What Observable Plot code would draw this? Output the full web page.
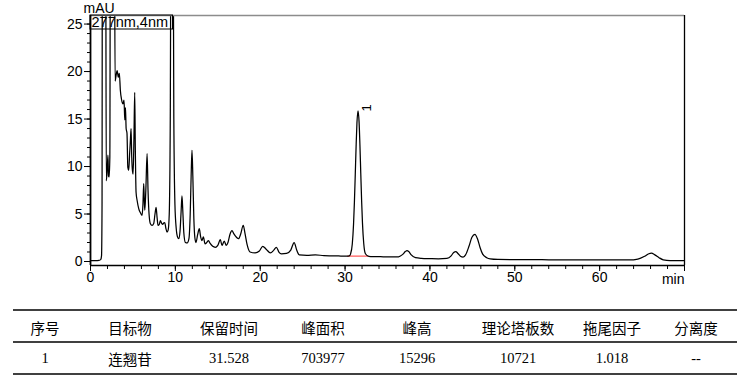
<!DOCTYPE html>
<html><head><meta charset="utf-8">
<script src="https://cdn.jsdelivr.net/npm/d3@7"></script>
<script src="https://cdn.jsdelivr.net/npm/@observablehq/plot@0.6"></script>
<style>
body{margin:0;background:#fff;}
#chart svg{display:block;}
</style></head><body><div id="chart"></div><script>
// ---- data ----
const retentionTime = [
 0.0,0.6,1.0,1.2,1.30,1.36,1.40,1.78,1.86,1.96,2.06,2.12,2.20,2.28,2.35,2.80,2.90,3.00,3.14,3.28,3.40,3.52,3.65,3.84,3.95,4.04,4.12,4.20,4.30,4.40,4.50,4.62,4.70,4.78,4.86,4.95,5.02,5.12,5.21,5.28,5.37,5.50,5.69,5.90,6.08,6.18,6.27,6.34,6.40,6.52,6.67,6.78,6.90,7.06,7.25,7.45,7.60,7.73,7.85,7.96,8.10,8.24,8.40,8.51,8.62,8.75,8.88,9.02,9.15,9.28,9.40,9.50,9.72,9.82,9.95,10.1,10.25,10.40,10.55,10.68,10.78,10.88,11.0,11.18,11.40,11.60,11.75,11.86,11.96,12.06,12.18,12.30,12.43,12.62,12.82,12.98,13.14,13.30,13.50,13.70,13.90,14.10,14.40,14.70,15.00,15.30,15.50,15.76,16.00,16.20,16.45,16.67,16.90,17.20,17.45,17.70,18.00,18.20,18.45,18.80,19.40,19.90,20.30,20.70,21.20,21.60,21.90,22.20,22.50,23.10,23.60,24.00,24.30,24.60,25.50,26.5,27.5,28.5,29.5,30.2,30.5,30.65,30.85,31.0,31.1,31.2,31.3,31.4,31.528,31.65,31.75,31.85,31.95,32.05,32.2,32.4,32.8,33.5,34.5,35.5,36.3,36.8,37.1,37.3,37.5,37.8,38.3,39.0,40.0,41.0,42.0,42.5,42.8,43.05,43.3,43.6,43.9,44.2,44.6,44.95,45.3,45.6,45.9,46.2,46.7,47.1,48,50,52,54,56,58,60,62,63.5,64.5,65.3,65.8,66.1,66.5,67.0,67.5,68.3,69.9
];
const absorbance = [
 0.10,0.10,0.12,0.2,0.6,6,40,40,8.5,9.6,11.2,9.0,8.9,11,40,40,19.0,19.5,20.1,19.4,19.8,18.0,17.1,16.6,17.0,14.9,16.2,14.0,13.5,9.9,9.6,11.5,12.75,14.0,11.0,9.5,9.2,13,17.8,12,7.3,6.4,5.55,5.1,4.85,6.0,8.2,6.5,5.4,7.5,11.35,7.5,5.0,3.97,3.8,4.0,5.0,5.7,4.6,3.8,3.9,4.3,4.0,3.9,4.05,4.1,3.5,3.1,3.3,5,15,40,40,15,6,3.5,2.6,2.4,3.2,5.3,6.9,5.3,3.0,2.0,1.95,2.4,5,9,11.7,9,4.5,2.5,2.0,2.8,3.45,2.6,2.2,2.6,1.85,2.0,2.2,1.9,1.6,1.5,1.7,2.3,1.7,2.15,1.7,2.0,2.9,3.25,2.9,2.55,2.4,2.9,3.8,3.0,1.8,1.0,0.9,1.1,1.6,1.3,0.9,1.2,1.5,1.0,0.8,0.85,1.2,2.0,1.2,0.7,0.65,0.7,0.62,0.6,0.58,0.57,0.6,0.81,1.84,3.95,6.25,9.12,12.12,14.6,15.87,14.7,12.3,9.3,6.4,4.07,1.9,0.82,0.55,0.52,0.5,0.48,0.5,0.75,1.05,1.15,1.05,0.7,0.4,0.33,0.3,0.28,0.33,0.6,0.95,1.05,0.85,0.55,0.45,0.7,1.6,2.55,2.85,2.4,1.5,0.8,0.4,0.28,0.22,0.2,0.2,0.18,0.17,0.16,0.18,0.17,0.16,0.25,0.55,0.82,0.87,0.7,0.4,0.18,0.1,0.1
];
const yDomain = [-0.42, 25.9];
const xDomain = [0, 70];
const yMajorTicks = [0, 5, 10, 15, 20, 25];
const yMinorTicks = [0,1,2,3,4,5,6,7,8,9,10,11,12,13,14,15,16,17,18,19,20,21,22,23,24,25];
const xMajorTicks = [0, 10, 20, 30, 40, 50, 60];
const xMinorTicks = [0,2,4,6,8,10,12,14,16,18,20,22,24,26,28,30,32,34,36,38,40,42,44,46,48,50,52,54,56,58,60,62,64,66,68,70];
const yUnit = "mAU";
const xUnit = "min";
const channelLabel = "277nm,4nm";
const peakIds = ["1"];
const peakTimes = [31.528];
const peakTops = [15.87];
const baselineTimes = [30.3, 32.7];
const baselineValues = [0.57, 0.56];
const tableHeaders = ["序号", "目标物", "保留时间", "峰面积", "峰高", "理论塔板数", "拖尾因子", "分离度"];
const tableRow = ["1", "连翘苷", "31.528", "703977", "15296", "10721", "1.018", "--"];

// ---- layout ----
const W = 752, H = 295;
const sans = "'Liberation Sans', Arial, sans-serif";
const trace = retentionTime.map((t, i) => ({t, v: absorbance[i]}));
const peaks = peakIds.map((id, i) => ({id, t: peakTimes[i], v: peakTops[i]}));
const baseline = baselineTimes.map((t, i) => ({t, v: baselineValues[i]}));

const channelBox = (index, scales, values, dim) => {
  const g = d3.create("svg:g");
  const x0 = dim.marginLeft, y0 = dim.marginTop;
  g.append("rect").attr("x", x0).attr("y", y0).attr("width", 82.5).attr("height", 14)
    .attr("fill", "none").attr("stroke", "black").attr("stroke-width", 1);
  g.append("text").attr("x", x0 + 1.5).attr("y", y0 + 12)
    .attr("text-anchor", "start")
    .attr("font-family", sans).attr("font-size", 14.5).attr("fill", "black").text(channelLabel);
  return g.node();
};

const chart = Plot.plot({
  width: W, height: H,
  marginLeft: 90, marginRight: 68, marginTop: 15, marginBottom: 30,
  style: {fontFamily: sans, fontSize: "14px", color: "black", background: "white"},
  x: {domain: xDomain},
  y: {domain: yDomain},
  marks: [
    Plot.line(baseline, {x: "t", y: "v", stroke: "#ff5a5a", strokeWidth: 1.3}),
    Plot.line(trace, {x: "t", y: "v", curve: "monotone-x", stroke: "black", strokeWidth: 1.25, clip: true}),
    Plot.ruleY([yDomain[1]], {stroke: "#8c8c8c", strokeWidth: 1.5}),
    Plot.ruleX([xDomain[1]], {stroke: "black", strokeWidth: 1.3}),
    Plot.ruleX([xDomain[0]], {stroke: "black", strokeWidth: 1.8}),
    Plot.ruleY([yDomain[0]], {stroke: "black", strokeWidth: 1.5}),
    Plot.axisY({ticks: yMinorTicks, tickSize: 3, tickFormat: () => "", label: null}),
    Plot.axisY({ticks: yMajorTicks, tickSize: 6, tickPadding: 2, fontSize: 14, label: null}),
    Plot.axisX({ticks: xMinorTicks, tickSize: 4, tickFormat: () => "", label: null}),
    Plot.axisX({ticks: xMajorTicks.concat([xDomain[1]]), tickSize: 6, tickPadding: 1, fontSize: 14, label: null,
      tickFormat: d => d === xDomain[1] ? "" : d}),
    Plot.text([yUnit], {frameAnchor: "top-left", textAnchor: "start", lineAnchor: "middle", dx: -7, dy: -7, fontSize: 14}),
    Plot.text([xUnit], {frameAnchor: "bottom-right", textAnchor: "end", lineAnchor: "middle", dy: 14, fontSize: 14}),
    Plot.text(peaks, {x: "t", y: "v", text: "id", rotate: -90, dx: 9, dy: -3, fontSize: 13}),
    channelBox
  ]
});
document.getElementById("chart").appendChild(chart);

// ---- results table below the plot ----
const colCenters = [45, 130, 229, 323, 417, 518, 612, 696];
const tbl = d3.select("#chart").append("svg").attr("width", W).attr("height", 85).style("display", "block");
[15, 47, 79].forEach(y => tbl.append("line").attr("x1", 13).attr("x2", 737).attr("y1", y).attr("y2", y)
  .attr("stroke", "black").attr("stroke-width", 1.3));
tbl.selectAll("text.h").data(tableHeaders).join("text").attr("class", "h")
  .attr("x", (d, i) => colCenters[i]).attr("y", 32).attr("text-anchor", "middle").attr("dominant-baseline", "central")
  .attr("font-family", "'Noto Sans CJK SC', sans-serif").attr("font-size", 14.5).text(d => d);
tbl.selectAll("text.r").data(tableRow).join("text").attr("class", "r")
  .attr("x", (d, i) => colCenters[i]).attr("y", 63).attr("text-anchor", "middle").attr("dominant-baseline", "central")
  .attr("font-family", (d, i) => i === 1 ? "'Noto Sans CJK SC', serif" : "'Liberation Serif', 'Times New Roman', serif")
  .attr("font-size", 14.5).text(d => d);
</script></body></html>
